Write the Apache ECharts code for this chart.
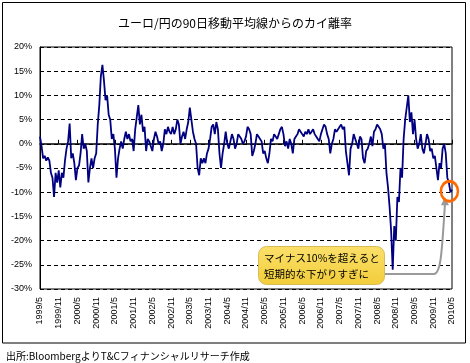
<!DOCTYPE html>
<html><head><meta charset="utf-8">
<script src="https://cdn.jsdelivr.net/npm/echarts@6/dist/echarts.min.js"></script>
<style>html,body{margin:0;padding:0;background:#fff}#c{width:470px;height:363px}</style>
</head><body><div id="c"></div>
<script>
// Semi-monthly observations from 1999/5 to 2010/5 (percent deviation from 90-day MA)
const deviation = [
  1.5,-0.5,-3,-2.5,-3.5,-2.8,-3.5,-6,-7,-11,-6,-8,
  -5.5,-9,-6,-7,-3.5,-1,0.5,4.2,-3,-2,-4,-7.5,
  -5,-4.5,-2,2,-1,0,-1.5,-8,-5,-3,-5,-3,
  -2,4,8,14,16.3,13,9,10,6,5,1,2,
  -1,-7,-3,-1,0.5,-1,1,2.5,1,2,0.5,1,
  -1.5,3,5.5,8,4,6,2.5,3.5,-1.5,1,0.5,-0.5,
  -1.5,1,2.5,1.5,0,0.5,-1.5,0,3,2,3.5,2.5,
  2,3.5,2,3,5,4,0,1.5,2.5,1,3,4.5,
  7.5,5,2.5,1,0,-5,-6.5,-3,-4,-3,-4,-2,
  -1,1,3.5,4,2,4.5,3,-2,-5,-2,0,2.5,
  0,-1,0.5,2,1,-1,0,2,1.5,1,0,0.5,
  1.5,3.5,3,2,-2.5,-1.5,0,2,1.5,1,0.5,-2,
  -1.5,-3,-4,-2,1,0.5,2,1.5,1,2,3,3.5,
  2,-0.5,0.5,-1,1,0,-2,1,1.5,2,3,2.5,
  2,1.5,2.5,2,3,2,2.5,3,2,1.5,1,0.5,
  2,3,4,3.5,2,1,-2,0,1,3,2.5,3,
  3.5,4,3,3.5,-1.5,-4,-6.5,-1,0,2,1,0,
  -1,1.5,1,-3,-4,-1.5,-1,0,1.5,-0.5,2.5,3,
  4,3.5,3,2,-1,0,-6,-9,-13,-18,-26,-17,
  -20,-11,-12,-5,-7,1,5,7.5,10,4.5,6.5,2,
  5,1,-1,0,2,-1,-2,0,2,1,-1.5,-1,
  -3,-2.5,-5,-7.5,-4,-5,-1,0,-2,-7,-8,-10,-9.5
];
const xTickLabels = ['1999/5','1999/11','2000/5','2000/11','2001/5','2001/11','2002/5','2002/11',
  '2003/5','2003/11','2004/5','2004/11','2005/5','2005/11','2006/5','2006/11','2007/5','2007/11',
  '2008/5','2008/11','2009/5','2009/11','2010/5'];
const yTicks = {min: -30, max: 20, step: 5};
const titleText = 'ユーロ/円の90日移動平均線からのカイ離率';
const sourceText = '出所:BloombergよりT&Cフィナンシャルリサーチ作成';
const noteLines = ['マイナス10%を超えると', '短期的な下がりすぎに'];

// category labels (dates) for each observation
const categories = [];
for (let i = 0; i < deviation.length; i++) {
  const m = 4 + Math.floor(i / 2); // months since 1999/1 (0-based)
  const y = 1999 + Math.floor(m / 12);
  categories.push(y + '/' + (m % 12 + 1) + '/' + (i % 2 ? 16 : 1));
}

const numFont = '"Liberation Sans Narrow", "Liberation Sans", sans-serif';
const jpFont = '"Noto Sans CJK JP", sans-serif';

const chart = echarts.init(document.getElementById('c'), null, {renderer: 'canvas'});
chart.setOption({
  animation: false,
  backgroundColor: '#fff',
  title: [
    {text: titleText, left: 113, top: 12, textStyle: {fontFamily: jpFont, fontSize: 12, fontWeight: 'normal', color: '#000'}},
    {text: sourceText, left: 1, top: 346, textStyle: {fontFamily: jpFont, fontSize: 10, fontWeight: 'normal', color: '#000'}}
  ],
  grid: {left: 40, right: 18, top: 47, bottom: 74, show: true, borderColor: '#000', borderWidth: 1, backgroundColor: '#fff'},
  xAxis: [
    {type: 'category', data: categories, boundaryGap: false,
     axisLine: {onZero: true, lineStyle: {color: '#000', width: 1.5}},
     axisTick: {show: true, inside: true, length: 4, interval: 11, lineStyle: {color: '#000'}},
     axisLabel: {show: false}, splitLine: {show: false}},
    {type: 'category', data: categories, boundaryGap: false, position: 'bottom',
     axisLine: {show: false, onZero: false}, axisTick: {show: false},
     axisLabel: {show: true, interval: 11, rotate: 90, margin: 8, color: '#000', fontSize: 9, fontFamily: numFont,
       formatter: (v, idx) => xTickLabels[Math.round(idx / 12)]},
     splitLine: {show: false}}
  ],
  yAxis: {type: 'value', min: yTicks.min, max: yTicks.max, interval: yTicks.step,
    axisLine: {show: true, lineStyle: {color: '#000'}}, axisTick: {show: false},
    axisLabel: {color: '#000', fontSize: 9, fontFamily: numFont, margin: 8, formatter: v => v + '%'},
    splitLine: {show: true, lineStyle: {color: '#000', type: [4, 3], width: 1}}},
  series: [{type: 'line', data: deviation, xAxisIndex: 0, yAxisIndex: 0, symbol: 'none',
    lineStyle: {color: '#000080', width: 1.8}, z: 3}]
});

// annotation elements placed relative to the data scale
const tip = chart.convertToPixel({xAxisIndex: 0, yAxisIndex: 0}, [deviation.length - 2, -10]);
const cx = tip[0] - 1, cy = tip[1] - 1;
const boxFill = {type: 'linear', x: 0, y: 0, x2: 0, y2: 1, colorStops: [{offset: 0, color: '#FBE06A'}, {offset: 1, color: '#F2CD3A'}]};
const arrowGray = '#9a9a9a';
chart.setOption({
  graphic: [
    {type: 'rect', shape: {x: 2.5, y: 2.5, width: 463, height: 340.5}, style: {fill: 'none', stroke: '#000', lineWidth: 1}, z: 100},
    {type: 'polyline', shape: {points: [[384, 274], [434, 274]]}, style: {fill: 'none', stroke: arrowGray, lineWidth: 2}, z: 100},
    {type: 'bezierCurve', shape: {x1: 434, y1: 274, cpx1: 441, cpy1: 274, cpx2: 442, cpy2: 250, x2: cx - 4.5, y2: cy + 13},
     style: {fill: 'none', stroke: arrowGray, lineWidth: 2}, z: 100},
    {type: 'polygon', shape: {points: [[cx - 4.5, cy + 6], [cx - 8.5, cy + 14], [cx - 0.5, cy + 14]]}, style: {fill: arrowGray}, z: 100},
    {type: 'circle', x: cx, y: cy, scaleY: 1.18, shape: {cx: 0, cy: 0, r: 8.5}, style: {fill: 'none', stroke: '#FF6A00', lineWidth: 2.5, strokeNoScale: true}, z: 101},
    {type: 'rect', shape: {x: 258.5, y: 246.5, width: 126, height: 38, r: 8},
     style: {fill: boxFill, stroke: '#D8BC55', lineWidth: 1}, z: 100},
    {type: 'text', x: 264, y: 250.5, style: {text: noteLines.join('\n'), fontFamily: jpFont, fontSize: 10.5, lineHeight: 16, fill: '#000'}, z: 102}
  ]
});
</script></body></html>
